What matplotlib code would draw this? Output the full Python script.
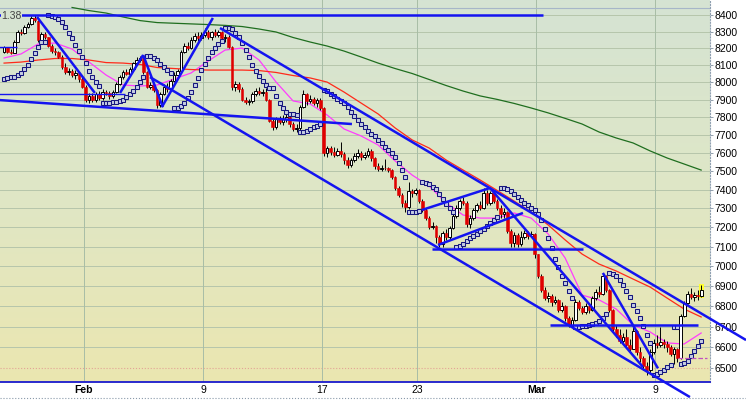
import numpy as np
import matplotlib.pyplot as plt
from matplotlib.colors import LinearSegmentedColormap
from matplotlib.lines import Line2D
from matplotlib.ticker import NullLocator

plt.rcParams['font.family'] = ['Liberation Sans', 'DejaVu Sans']

# --- hourly bars, 27 Jan (last 3 bars) .. 10 Mar, 7 bars per day ---
opens = [
    8175, 8205, 8180,
    8174, 8240, 8300, 8290, 8330, 8345, 8380,
    8365, 8250, 8285, 8265, 8215, 8185, 8175,
    8150, 8090, 8060, 8065, 8040, 8055, 8020,
    7975, 7900, 7920, 7895, 7930, 7910, 7945,
    7936, 7920, 7945, 7990, 8030, 8060, 8050,
    8078, 8110, 8130, 8140, 8060, 7975, 7985,
    7956, 7870, 7930, 7975, 7960, 8010, 8045,
    8063, 8180, 8215, 8200, 8250, 8275, 8260,
    8280, 8300, 8270, 8295, 8280, 8300, 8260,
    8270, 8210, 7970, 7990, 7960, 7900, 7885,
    7889, 7930, 7950, 7935, 7945, 7900, 7780,
    7745, 7790, 7770, 7790, 7800, 7760, 7735,
    7740, 7860, 7930, 7890, 7905, 7880, 7900,
    7850, 7600, 7625, 7605, 7590, 7610, 7595,
    7560, 7535, 7560, 7585, 7600, 7575, 7590,
    7610, 7570, 7530, 7510, 7520, 7515, 7505,
    7470, 7410, 7370, 7330, 7305, 7395, 7380,
    7400, 7340, 7290, 7250, 7200, 7210, 7150,
    7114, 7170, 7150, 7195, 7260, 7300, 7340,
    7330, 7220, 7250, 7290, 7320, 7300, 7380,
    7330, 7380, 7340, 7300, 7270, 7280, 7180,
    7120, 7160, 7115, 7150, 7170, 7155, 7165,
    7060, 6950, 6880, 6840, 6850, 6820, 6830,
    6780, 6800, 6740, 6710, 6730, 6820, 6790,
    6770, 6800, 6780, 6840, 6870, 6860, 6950,
    6880, 6780, 6690, 6660, 6630, 6650, 6610,
    6594, 6680, 6580, 6550, 6510, 6490, 6580,
    6620, 6610, 6625, 6615, 6600, 6570, 6590,
    6547, 6750, 6815, 6860, 6845, 6855, 6850,
]
closes = [
    8205, 8180, 8174,
    8240, 8300, 8290, 8330, 8345, 8380, 8370,
    8250, 8285, 8265, 8215, 8185, 8175, 8150,
    8090, 8060, 8065, 8040, 8055, 8020, 7975,
    7900, 7920, 7895, 7930, 7910, 7945, 7936,
    7920, 7945, 7990, 8030, 8060, 8050, 8078,
    8110, 8130, 8140, 8060, 7975, 7985, 7956,
    7870, 7930, 7975, 7960, 8010, 8045, 8063,
    8180, 8215, 8200, 8250, 8275, 8260, 8280,
    8300, 8270, 8295, 8280, 8300, 8260, 8270,
    8210, 7970, 7990, 7960, 7900, 7885, 7889,
    7930, 7950, 7935, 7945, 7900, 7780, 7745,
    7790, 7770, 7790, 7800, 7760, 7735, 7740,
    7860, 7930, 7890, 7905, 7880, 7900, 7850,
    7600, 7625, 7605, 7590, 7610, 7595, 7560,
    7535, 7560, 7585, 7600, 7575, 7590, 7610,
    7570, 7530, 7510, 7520, 7515, 7505, 7470,
    7410, 7370, 7330, 7305, 7395, 7380, 7400,
    7340, 7290, 7250, 7200, 7210, 7150, 7114,
    7170, 7150, 7195, 7260, 7300, 7340, 7330,
    7220, 7250, 7290, 7320, 7300, 7380, 7330,
    7380, 7340, 7300, 7270, 7280, 7180, 7120,
    7160, 7115, 7150, 7170, 7155, 7165, 7060,
    6950, 6880, 6840, 6850, 6820, 6830, 6780,
    6800, 6740, 6710, 6730, 6820, 6790, 6770,
    6800, 6780, 6840, 6870, 6860, 6950, 6880,
    6780, 6690, 6660, 6630, 6650, 6610, 6594,
    6680, 6580, 6550, 6510, 6490, 6580, 6620,
    6610, 6625, 6615, 6600, 6570, 6590, 6547,
    6750, 6815, 6860, 6845, 6855, 6850, 6880,
]
highs = [
    8215, 8210, 8195,
    8250, 8310, 8315, 8340, 8360, 8395, 8400,
    8370, 8295, 8300, 8270, 8225, 8200, 8185,
    8160, 8110, 8085, 8075, 8070, 8060, 8030,
    7985, 7935, 7940, 7945, 7950, 7960, 7955,
    7950, 7955, 8000, 8040, 8070, 8075, 8090,
    8120, 8145, 8155, 8145, 8065, 8000, 7995,
    7960, 7945, 7990, 7995, 8020, 8060, 8075,
    8190, 8230, 8235, 8265, 8290, 8300, 8295,
    8320, 8310, 8305, 8315, 8310, 8305, 8285,
    8280, 8215, 8010, 8000, 7970, 7915, 7905,
    7945, 7965, 7970, 7960, 7965, 7905, 7790,
    7800, 7805, 7810, 7820, 7810, 7775, 7760,
    7870, 7955, 7940, 7925, 7915, 7910, 7910,
    7855, 7640, 7640, 7630, 7625, 7660, 7605,
    7575, 7570, 7600, 7620, 7610, 7605, 7625,
    7620, 7580, 7545, 7535, 7565, 7525, 7510,
    7475, 7420, 7380, 7345, 7440, 7405, 7410,
    7405, 7350, 7300, 7260, 7230, 7215, 7160,
    7180, 7190, 7205, 7275, 7320, 7350, 7360,
    7340, 7265, 7300, 7330, 7340, 7410, 7400,
    7395, 7390, 7350, 7320, 7300, 7285, 7190,
    7175, 7170, 7180, 7185, 7180, 7180, 7170,
    7060, 6960, 6895, 6870, 6860, 6850, 6835,
    6820, 6805, 6750, 6745, 6835, 6830, 6800,
    6815, 6810, 6850, 6885, 6900, 6965, 6955,
    6885, 6785, 6710, 6690, 6670, 6690, 6640,
    6700, 6685, 6600, 6560, 6530, 6590, 6640,
    6660, 6700, 6640, 6630, 6610, 6600, 6595,
    6760, 6825, 6875, 6890, 6870, 6880, 6905,
]
lows = [
    8170, 8170, 8165,
    8170, 8235, 8280, 8285, 8320, 8340, 8360,
    8240, 8245, 8255, 8205, 8170, 8160, 8140,
    8080, 8050, 8040, 8030, 8020, 8000, 7965,
    7885, 7880, 7885, 7885, 7900, 7900, 7925,
    7905, 7910, 7940, 7985, 8020, 8040, 8045,
    8070, 8100, 8120, 8050, 7965, 7960, 7945,
    7850, 7860, 7925, 7945, 7955, 8000, 8035,
    8055, 8170, 8190, 8195, 8240, 8245, 8250,
    8265, 8255, 8250, 8270, 8265, 8245, 8240,
    8200, 7955, 7950, 7945, 7890, 7875, 7870,
    7880, 7920, 7925, 7920, 7890, 7770, 7730,
    7735, 7760, 7755, 7770, 7745, 7720, 7715,
    7730, 7850, 7870, 7880, 7870, 7860, 7840,
    7585, 7580, 7590, 7580, 7585, 7580, 7540,
    7515, 7525, 7550, 7570, 7560, 7565, 7580,
    7555, 7510, 7500, 7500, 7505, 7495, 7455,
    7400, 7360, 7310, 7280, 7295, 7360, 7370,
    7330, 7280, 7240, 7190, 7190, 7120, 7100,
    7100, 7135, 7140, 7190, 7250, 7290, 7320,
    7200, 7195, 7240, 7280, 7290, 7295, 7320,
    7320, 7330, 7290, 7250, 7250, 7170, 7100,
    7100, 7100, 7105, 7140, 7140, 7150, 7040,
    6940, 6870, 6830, 6820, 6800, 6810, 6770,
    6770, 6725, 6700, 6700, 6725, 6780, 6760,
    6760, 6765, 6775, 6830, 6845, 6855, 6870,
    6770, 6680, 6650, 6620, 6615, 6600, 6580,
    6590, 6565, 6530, 6490, 6470, 6475, 6570,
    6595, 6600, 6595, 6580, 6560, 6520, 6530,
    6545, 6745, 6810, 6835, 6825, 6830, 6845,
]

# moving averages (every 5 bars)
pink_ma = [8142, 8166, 8225, 8231, 8195, 8118, 8042, 7984, 7978, 7984,
           8019, 8054, 8124, 8189, 8201, 8130, 8001, 7892, 7875, 7812,
           7733, 7694, 7644, 7556, 7479, 7420, 7329, 7265, 7249, 7249,
           7276, 7249, 7166, 7042, 6855, 6831, 6786, 6708, 6674, 6621,
           6616, 6669]
red_ma = [8112, 8118, 8130, 8139, 8139, 8130, 8115, 8112, 8104, 8086,
          8080, 8074, 8071, 8071, 8071, 8068, 8057, 8039, 8025, 8001,
          7943, 7880, 7818, 7739, 7672, 7627, 7561, 7506, 7452, 7396,
          7339, 7281, 7213, 7135, 7062, 7011, 6976, 6935, 6895, 6840,
          6786, 6747]
green_ma = [8446, 8427, 8412, 8388, 8366, 8354, 8350, 8346, 8342, 8337,
            8330, 8315, 8297, 8264, 8237, 8213, 8183, 8148, 8112, 8080,
            8051, 8016, 7981, 7949, 7921, 7901, 7878, 7852, 7824, 7793,
            7761, 7716, 7683, 7655, 7611, 7572, 7539, 7506]
green_start = 20

# parabolic SAR seed (state before the first bar)
sar_seed = 8020
sar_seed_ep = 8215

# hand-drawn trend lines: (bar0, price0, bar1, price1, thick)
trend_lines = [
    (-2, 8400, 158.4, 8400, True),
    (-2, 7898, 102.3, 7761, True),
    (-2, 7930, 35.6, 7930, False),
    (-2, 8209, 3.8, 8209, False),
    (9.7, 8388, 26.7, 7938, True),
    (34.1, 7938, 40.9, 8160, True),
    (40.9, 8160, 46.7, 7857, True),
    (46.4, 7857, 61.4, 8382, True),
    (42.9, 8030, 201.7, 6366, True),
    (63.5, 8321, 218.2, 6635, True),
    (142.9, 7409, 187.9, 6506, True),
    (176.1, 6966, 192.3, 6500, True),
    (122.9, 7292, 142.9, 7409, True),
    (127.6, 7109, 152.6, 7276, True),
    (125.9, 7088, 170.3, 7088, True),
    (160.5, 6708, 204.1, 6708, True),
]
low_marker = (198.2, 206.7, 6549)

day_starts = [23.5, 58.5, 93.5, 121.5, 156.5, 191.5]
day_labels = ['Feb', '9', '17', '23', 'Mar', '9']
price_ticks = list(range(6500, 8401, 100))


def parabolic_sar(h, l, start, ep, step=0.02, amax=0.2):
    up = True
    af = step
    s = start
    out = [s]
    for i in range(1, len(h)):
        s = s + af * (ep - s)
        if up:
            s = min(s, l[i - 1], l[max(i - 2, 0)])
            if l[i] < s:
                up, s, ep, af = False, ep, l[i], step
            elif h[i] > ep:
                ep, af = h[i], min(af + step, amax)
        else:
            s = max(s, h[i - 1], h[max(i - 2, 0)])
            if h[i] > s:
                up, s, ep, af = True, ep, h[i], step
            elif l[i] < ep:
                ep, af = l[i], min(af + step, amax)
        out.append(s)
    return np.array(out)


o = np.array(opens, float)
c = np.array(closes, float)
h = np.array(highs, float)
l = np.array(lows, float)
idx = np.arange(len(c))

W, H = 746, 400
fig = plt.figure(figsize=(W / 100, H / 100), dpi=100)
fig.patch.set_facecolor('white')
rect = [0, 18 / H, 710 / W, 382 / H]

# gradient background
bg = fig.add_axes(rect, zorder=0)
grad = np.linspace(0, 1, 256).reshape(-1, 1)
cmap = LinearSegmentedColormap.from_list('bg', ['#d5e3d3', '#dfe7c6', '#ebe6b0'])
bg.imshow(grad, aspect='auto', cmap=cmap, extent=[0, 1, 0, 1], origin='upper')
bg.axis('off')

ax = fig.add_axes(rect, zorder=1)
ax.patch.set_alpha(0)
ax.set_yscale('log')
ax.set_xlim(-1.2, 207.6)
ax.set_ylim(6436, 8492)

# grid
for p in price_ticks:
    if p == 6500:
        ax.axhline(p, color='#e2a496', lw=0.8, ls=':', zorder=1)
    else:
        ax.axhline(p, color='#b6c6ab', lw=0.7, zorder=1)
for d in day_starts:
    ax.axvline(d, color='#a8bda6', lw=0.7, zorder=1)
ax.plot([0, 1], [1 - 8 / 382] * 2, transform=ax.transAxes, color='#a6b6c8', lw=0.8, zorder=1)

# moving averages
ma_u = np.arange(0, 5 * len(pink_ma), 5)
ax.plot(ma_u, pink_ma, color='#ff3cff', lw=0.9, zorder=2)
ax.plot(ma_u[:len(red_ma)], red_ma, color='#ff2a1a', lw=0.9, zorder=2)
ax.plot(np.arange(green_start, green_start + 5 * len(green_ma), 5), green_ma,
        color='#1f6e1f', lw=0.9, zorder=2)

# highlight last bar
ax.bar(idx[-1], h[-1] - l[-1] + 12, bottom=l[-1] - 6, width=1.5, color='#ffff30', zorder=2.5)

# candles
up = c >= o
ax.vlines(idx, l, h, color='black', lw=0.7, zorder=3)
body_lo = np.minimum(o, c)
body_h = np.maximum(np.abs(c - o), 1.5)
ax.bar(idx[up], body_h[up], bottom=body_lo[up], width=0.8, color='white',
       edgecolor='black', linewidth=0.7, zorder=4)
ax.bar(idx[~up], body_h[~up], bottom=body_lo[~up], width=0.8, color='#e00000',
       edgecolor='#e00000', linewidth=0.4, zorder=4)

# parabolic SAR
sar = parabolic_sar(h, l, sar_seed, sar_seed_ep)
ax.plot(idx, sar, 's', ms=2.2, mfc='#c4cde2', mec='#16167e', mew=0.75, ls='none', zorder=5)

# trend lines
for x0, p0, x1, p1, thick in trend_lines:
    ax.plot([x0, x1], [p0, p1], color='#1414f0', lw=1.8 if thick else 1.0,
            solid_capstyle='butt', clip_on=False, zorder=6)
ax.plot(low_marker[:2], [low_marker[2]] * 2, color='#c050c0', lw=0.9, ls='--', zorder=6)

# axes styling
ax.yaxis.tick_right()
ax.set_yticks(price_ticks)
ax.set_yticklabels([str(p) for p in price_ticks])
ax.yaxis.set_minor_locator(NullLocator())
ax.tick_params(axis='y', length=2, width=0.6, color='#8090a0', pad=1.5, labelsize=7.5)
ax.set_xticks(day_starts)
ax.set_xticklabels(day_labels)
ax.tick_params(axis='x', length=0, pad=2.5, labelsize=7.5)
for t in ax.get_xticklabels():
    if t.get_text() in ('Feb', 'Mar'):
        t.set_fontweight('bold')

for s in ('top', 'left'):
    ax.spines[s].set_visible(False)
ax.spines['right'].set_color('#8fa0b0')
ax.spines['right'].set_linestyle(':')
ax.spines['right'].set_linewidth(0.8)
ax.spines['bottom'].set_color('#1a1acc')
ax.spines['bottom'].set_linewidth(1.3)

fig.add_artist(Line2D([0, 1], [2 / H, 2 / H], transform=fig.transFigure,
                      ls=':', color='#8a9aaa', lw=0.8))
fig.text(1 / W, 1 - 16 / H, '1.38', fontsize=7.5, color='#444444', va='center', ha='left',
         bbox=dict(fc='#d6e3d1', ec='none', pad=0.3), zorder=10)

fig.savefig('out.png', dpi=100)
